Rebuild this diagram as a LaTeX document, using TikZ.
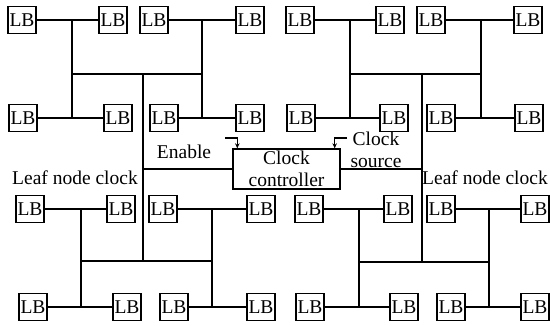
\documentclass[tikz,border=0pt]{standalone}
\usepackage{fontspec}
\setmainfont{Liberation Serif}
\usetikzlibrary{arrows.meta}
\begin{document}
\begin{tikzpicture}[x=1pt,y=-1pt,
  lb/.style={draw,line width=1.6pt,minimum width=28pt,minimum height=27pt,inner sep=0pt,font=\fontsize{19.5}{22}\selectfont},
  wire/.style={line width=1.4pt},
  lbl/.style={inner sep=0pt,font=\fontsize{19.5}{22}\selectfont,align=center},
  ctl/.style={draw,line width=1.4pt,minimum width=107pt,minimum height=40pt,inner sep=0pt,font=\fontsize{19.5}{22}\selectfont,align=center},
  arr/.style={line width=1.1pt,-{Stealth[length=5pt,width=4.5pt]}}]
\useasboundingbox (0,0) rectangle (550,326);
% top-left quadrant
\node[lb] (a1) at (22,20) {LB};
\node[lb] (a2) at (113,20) {LB};
\node[lb] (a3) at (154,20) {LB};
\node[lb] (a4) at (250,20) {LB};
\node[lb] (a5) at (23,118) {LB};
\node[lb] (a6) at (118,118) {LB};
\node[lb] (a7) at (164,118) {LB};
\node[lb] (a8) at (250,118) {LB};
% top-right quadrant
\node[lb] (b1) at (300,20) {LB};
\node[lb] (b2) at (390,20) {LB};
\node[lb] (b3) at (431,20) {LB};
\node[lb] (b4) at (528,20) {LB};
\node[lb] (b5) at (301,118) {LB};
\node[lb] (b6) at (394,118) {LB};
\node[lb] (b7) at (441,118) {LB};
\node[lb] (b8) at (529,118) {LB};
% bottom-left quadrant
\node[lb] (c1) at (30,209) {LB};
\node[lb] (c2) at (121,209) {LB};
\node[lb] (c3) at (163,209) {LB};
\node[lb] (c4) at (261,209) {LB};
\node[lb] (c5) at (33,307) {LB};
\node[lb] (c6) at (127,307) {LB};
\node[lb] (c7) at (174,307) {LB};
\node[lb] (c8) at (261,307) {LB};
% bottom-right quadrant
\node[lb] (d1) at (309,209) {LB};
\node[lb] (d2) at (398,209) {LB};
\node[lb] (d3) at (441,209) {LB};
\node[lb] (d4) at (535,209) {LB};
\node[lb] (d5) at (310,307) {LB};
\node[lb] (d6) at (404,307) {LB};
\node[lb] (d7) at (451,307) {LB};
\node[lb] (d8) at (535,307) {LB};
% controller
\node[ctl] (ctrl) at (286.5,169) {Clock\\controller};
\node[lbl] (en) at (184,152) {Enable};
\node[lbl] (cs) at (376,150) {Clock\\source};
\node[lbl] (lfl) at (75,178) {Leaf node clock};
\node[lbl,anchor=east] (lfr) at (548,178) {Leaf node clock};
% junctions
\coordinate (ja1) at (72,20);  \coordinate (ja2) at (72,118);
\coordinate (ja3) at (202,20); \coordinate (ja4) at (202,118);
\coordinate (jam1) at (72,74); \coordinate (jam2) at (202,74); \coordinate (jat) at (143,74);
\coordinate (jb1) at (350,20); \coordinate (jb2) at (350,118);
\coordinate (jb3) at (481,20); \coordinate (jb4) at (481,118);
\coordinate (jbm1) at (350,74); \coordinate (jbm2) at (481,74); \coordinate (jbt) at (422,74);
\coordinate (jc1) at (81,209); \coordinate (jc2) at (81,307);
\coordinate (jc3) at (212,209); \coordinate (jc4) at (212,307);
\coordinate (jcm1) at (81,261); \coordinate (jcm2) at (212,261); \coordinate (jct) at (143,261);
\coordinate (jd1) at (359,209); \coordinate (jd2) at (359,307);
\coordinate (jd3) at (489,209); \coordinate (jd4) at (489,307);
\coordinate (jdm1) at (359,262); \coordinate (jdm2) at (489,262); \coordinate (jdt) at (422,262);
\coordinate (cl) at (143,169); \coordinate (cr) at (422,169);
% wires
\draw[wire] (a1) -- (a2); \draw[wire] (a3) -- (a4); \draw[wire] (a5) -- (a6); \draw[wire] (a7) -- (a8);
\draw[wire] (ja1) -- (ja2); \draw[wire] (ja3) -- (ja4); \draw[wire] (jam1) -- (jam2);
\draw[wire] (b1) -- (b2); \draw[wire] (b3) -- (b4); \draw[wire] (b5) -- (b6); \draw[wire] (b7) -- (b8);
\draw[wire] (jb1) -- (jb2); \draw[wire] (jb3) -- (jb4); \draw[wire] (jbm1) -- (jbm2);
\draw[wire] (c1) -- (c2); \draw[wire] (c3) -- (c4); \draw[wire] (c5) -- (c6); \draw[wire] (c7) -- (c8);
\draw[wire] (jc1) -- (jc2); \draw[wire] (jc3) -- (jc4); \draw[wire] (jcm1) -- (jcm2);
\draw[wire] (d1) -- (d2); \draw[wire] (d3) -- (d4); \draw[wire] (d5) -- (d6); \draw[wire] (d7) -- (d8);
\draw[wire] (jd1) -- (jd2); \draw[wire] (jd3) -- (jd4); \draw[wire] (jdm1) -- (jdm2);
\draw[wire] (jat) -- (jct);
\draw[wire] (jbt) -- (jdt);
\draw[wire] (cl) -- (ctrl.west);
\draw[wire] (ctrl.east) -- (cr);
% control arrows
\coordinate (ens) at (225,138);
\coordinate (css) at (347,138);
\draw[arr] (ens) -| ([xshift=5pt]ctrl.north west);
\draw[arr] (css) -| ([xshift=-6pt]ctrl.north east);
\end{tikzpicture}
\end{document}
